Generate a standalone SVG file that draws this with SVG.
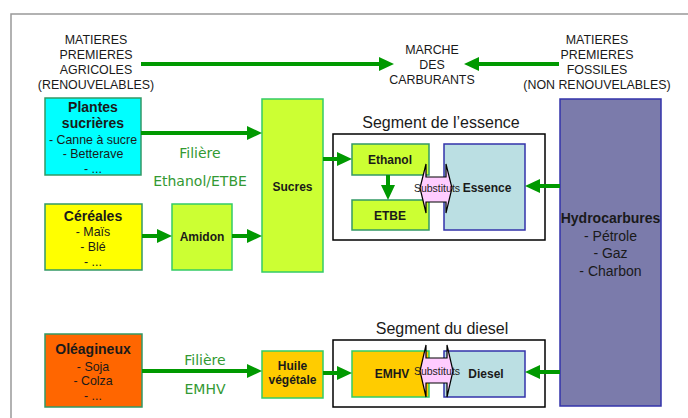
<svg xmlns="http://www.w3.org/2000/svg" width="688" height="418" viewBox="0 0 688 418">
<defs>
<style>
.t{font-family:"Liberation Sans",Arial,sans-serif;fill:#1a1a1a;text-anchor:middle}
.b{font-weight:bold}
.s14{font-size:14px}
.s12{font-size:12px}
.i{font-size:12.4px}
.s16{font-size:16px}
.g{font-family:"DejaVu Sans",sans-serif;font-size:14px;fill:#339933;text-anchor:middle}
.sub{font-family:"Liberation Sans",Arial,sans-serif;font-size:10.5px;fill:#222;text-anchor:middle}
.con{fill:none;stroke:#009900;stroke-width:4;marker-end:url(#ah)}
.gb{stroke:#339966;stroke-width:1.5}
.lb{stroke:#33CC66;stroke-width:1.5}
.bb{stroke:#3333AA;stroke-width:1.5}
.seg{fill:#fff;stroke:#000;stroke-width:1.5}
.subst{fill:#FFCCFF;stroke:#000;stroke-width:1.2}
</style>
<marker id="ah" viewBox="0 0 15 14" refX="4" refY="7" markerWidth="15" markerHeight="14" markerUnits="userSpaceOnUse" orient="auto">
<path d="M0,0 L15,7 L0,14 z" fill="#009900"/>
</marker>
</defs>
<rect width="688" height="418" fill="#fff"/>
<path d="M11,418 V14 H688" fill="none" stroke="#999" stroke-width="1.5"/>

<g id="label-agricoles">
<text class="t i" x="96" y="44">MATIERES</text>
<text class="t i" x="96" y="59">PREMIERES</text>
<text class="t i" x="96" y="74">AGRICOLES</text>
<text class="t i" x="96" y="89">(RENOUVELABLES)</text>
</g>
<g id="label-marche">
<text class="t i" x="432" y="54">MARCHE</text>
<text class="t i" x="432" y="69">DES</text>
<text class="t i" x="432" y="84">CARBURANTS</text>
</g>
<g id="label-fossiles">
<text class="t i" x="597" y="44">MATIERES</text>
<text class="t i" x="597" y="59">PREMIERES</text>
<text class="t i" x="597" y="74">FOSSILES</text>
<text class="t i" x="597" y="89">(NON RENOUVELABLES)</text>
</g>

<g id="plantes">
<rect x="45" y="98" width="96" height="77" fill="#00FFFF" class="gb"/>
<text class="t b s14" x="93" y="112">Plantes</text>
<text class="t b s14" x="93" y="128">sucrières</text>
<text class="t i" x="93" y="144">- Canne à sucre</text>
<text class="t i" x="93" y="158">- Betterave</text>
<text class="t i" x="93" y="173">- ...</text>
</g>
<g id="cereales">
<rect x="45" y="204" width="97" height="66" fill="#FFFF00" class="gb"/>
<text class="t b s14" x="93" y="221">Céréales</text>
<text class="t i" x="93" y="236">- Maïs</text>
<text class="t i" x="93" y="251">- Blé</text>
<text class="t i" x="93" y="266">- ...</text>
</g>
<g id="amidon">
<rect x="172" y="204" width="60" height="66" fill="#CCFF33" class="lb"/>
<text class="t b s12" x="202" y="241">Amidon</text>
</g>
<g id="sucres">
<rect x="262" y="99" width="61" height="173" fill="#CCFF33" class="lb"/>
<text class="t b s12" x="292.5" y="191">Sucres</text>
</g>
<g id="filiere-ethanol">
<text class="g" x="200" y="158">Filière</text>
<text class="g" x="200" y="186">Ethanol/ETBE</text>
</g>

<g id="segment-essence">
<text class="t s16" x="441" y="128">Segment de l’essence</text>
<rect x="333" y="134" width="212" height="106" class="seg"/>
</g>
<g id="ethanol">
<rect x="352" y="144" width="77" height="31" fill="#CCFF33" class="gb"/>
<text class="t b s12" x="390" y="164">Ethanol</text>
</g>
<g id="etbe">
<rect x="352" y="200" width="77" height="30" fill="#CCFF33" class="gb"/>
<text class="t b s12" x="390" y="220">ETBE</text>
</g>
<g id="essence">
<rect x="444" y="144" width="81" height="86" fill="#BBDFE3" class="bb"/>
<text class="t b s12" x="487" y="192">Essence</text>
</g>
<g id="substituts-essence">
<polygon class="subst" points="420,188 426,164 426,177 446,177 446,164 452,188 446,213 446,202 426,202 426,213"/>
<text class="sub" x="437" y="192">Substituts</text>
</g>

<g id="hydrocarbures">
<rect x="560" y="99" width="101" height="307" fill="#7B7BAB" class="bb"/>
<text class="t b s14" x="610.5" y="223">Hydrocarbures</text>
<text class="t s14" x="610.5" y="241">- Pétrole</text>
<text class="t s14" x="610.5" y="258">- Gaz</text>
<text class="t s14" x="610.5" y="276">- Charbon</text>
</g>

<g id="oleagineux">
<rect x="45" y="334" width="97" height="73" fill="#FF6600" class="gb"/>
<text class="t b s14" x="93" y="354">Oléagineux</text>
<text class="t i" x="93" y="371">- Soja</text>
<text class="t i" x="93" y="385">- Colza</text>
<text class="t i" x="93" y="400">- ...</text>
</g>
<g id="filiere-emhv">
<text class="g" x="205" y="365">Filière</text>
<text class="g" x="205" y="394">EMHV</text>
</g>
<g id="huile">
<rect x="262" y="351" width="61" height="47" fill="#FFCC00" class="lb"/>
<text class="t b s12" x="292.5" y="370">Huile</text>
<text class="t b s12" x="292.5" y="384">végétale</text>
</g>
<g id="segment-diesel">
<text class="t s16" x="442" y="334">Segment du diesel</text>
<rect x="333" y="340" width="212" height="67" class="seg"/>
</g>
<g id="emhv">
<rect x="352" y="351" width="77" height="46" fill="#FFCC00" class="lb"/>
<text class="t b s12" x="392" y="378">EMHV</text>
</g>
<g id="diesel">
<rect x="444" y="351" width="81" height="46" fill="#BBDFE3" class="bb"/>
<text class="t b s12" x="486" y="378">Diesel</text>
</g>
<g id="substituts-diesel">
<polygon class="subst" points="420,371 426,345 426,358 447,358 447,345 453,371 447,397 447,383 426,383 426,397"/>
<text class="sub" x="437" y="375">Substituts</text>
</g>

<g id="connectors">
<path class="con" d="M141,64 H383"/>
<path class="con" d="M559,64 H475"/>
<path class="con" d="M141,133 H251"/>
<path class="con" d="M142,236 H161"/>
<path class="con" d="M232,236 H251"/>
<path class="con" d="M323,159 H341"/>
<path class="con" d="M388,175 V189"/>
<path class="con" d="M560,186 H536"/>
<path class="con" d="M142,371 H251"/>
<path class="con" d="M323,373 H341"/>
<path class="con" d="M560,372 H536"/>
</g>
</svg>
